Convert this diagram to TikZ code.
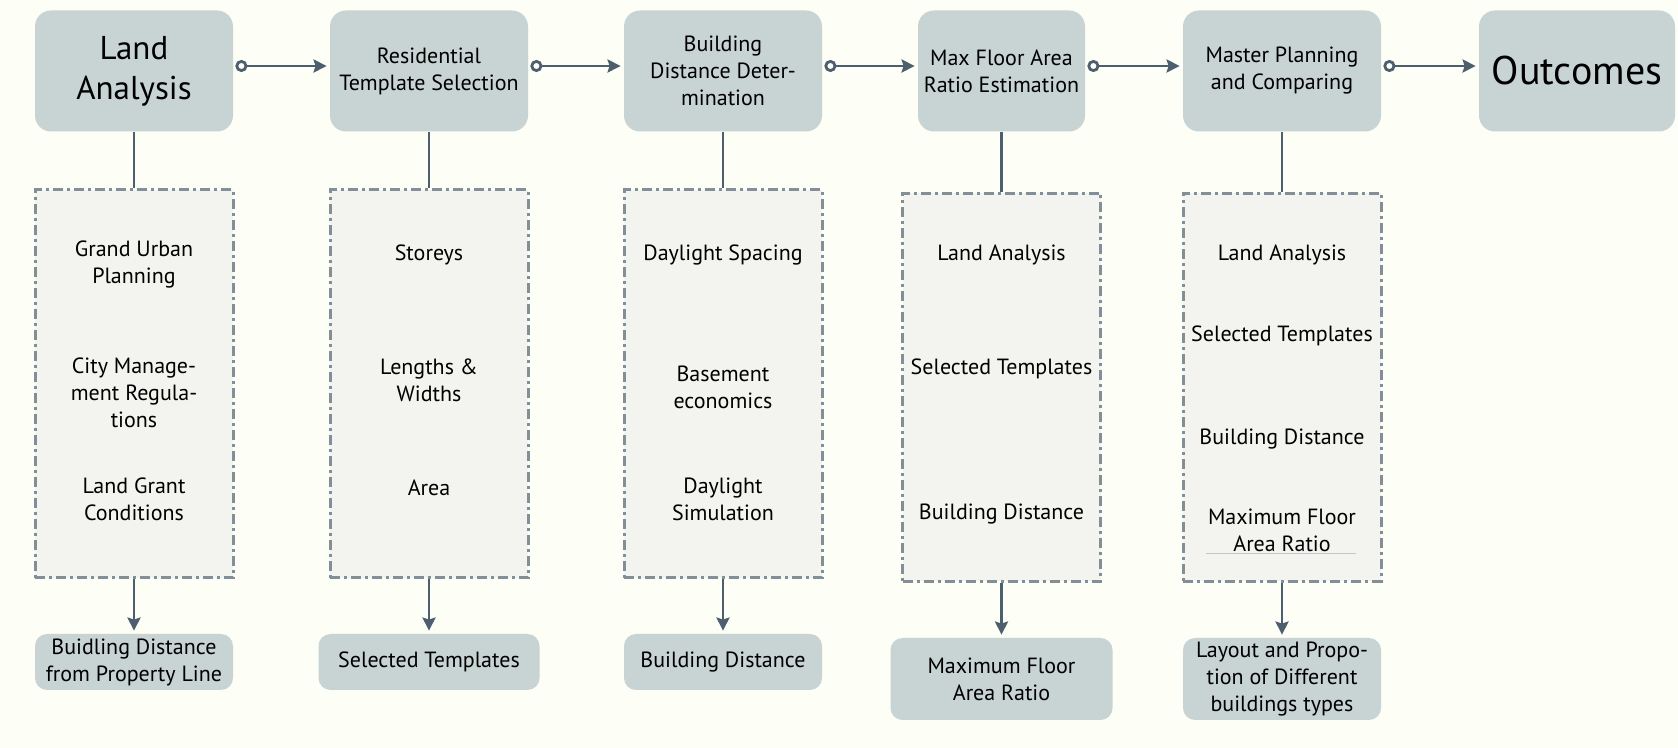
\documentclass[tikz,border=0pt]{standalone}
\usepackage{fontspec}
\setmainfont{PT Sans}
\usepackage{tikz}
\usepackage{xcolor}
\usetikzlibrary{arrows.meta}
\definecolor{paper}{RGB}{253,254,245}
\definecolor{slate}{RGB}{77,94,110}
\definecolor{boxgray}{RGB}{200,211,211}
\definecolor{dashgray}{RGB}{130,142,152}
\definecolor{panel}{RGB}{243,243,240}

\begin{document}
\begin{tikzpicture}[
    x=0.5pt, y=-0.5pt,
    txt/.style={font=\fontsize{11pt}{13.5pt}\selectfont},
    phase/.style={fill=boxgray, rounded corners=8pt, minimum width=99pt, minimum height=60.5pt, inner sep=2pt, align=center, txt},
    group/.style={draw=dashgray, fill=panel, line width=1.5pt, dash pattern=on 5pt off 2pt on 1.5pt off 2pt, minimum width=99pt, minimum height=194pt},
    entry/.style={align=center, inner sep=1pt, txt},
    output/.style={fill=boxgray, rounded corners=6pt, minimum width=99pt, minimum height=28pt, inner sep=1pt, align=center, txt},
    arr/.style={{Circle[fill=white, length=6pt, width=6pt]}-{Stealth[length=6.5pt, width=6.5pt, inset=1pt]}, line width=1.4pt, slate, shorten <=1pt, shorten >=1.5pt},
    conn/.style={line width=1.4pt, slate},
    down/.style={-{Stealth[length=6.5pt, width=6.5pt, inset=1pt]}, line width=1.4pt, slate, shorten >=1.5pt}
]
\useasboundingbox[fill=paper] (0,0) rectangle (1678,748);

% top row
\node[phase, font=\fontsize{16.5pt}{20pt}\selectfont] (p1) at (134,71) {Land\\Analysis};
\node[phase] (p2) at (429,71) {Residential\\Template Selection};
\node[phase] (p3) at (723,71) {Building\\Distance Deter-\\mination};
\node[phase, minimum width=83.5pt] (p4) at (1001.5,71) {Max Floor Area\\Ratio Estimation};
\node[phase] (p5) at (1282,71) {Master Planning\\and Comparing};
\node[phase, minimum width=98pt, font=\fontsize{20pt}{24pt}\selectfont] (p6) at (1577,71) {Outcomes};

% dashed groups
\node[group] (g1) at (134,384) {};
\node[group] (g2) at (429,384) {};
\node[group] (g3) at (723,384) {};
\node[group] (g4) at (1001.5,387.5) {};
\node[group] (g5) at (1282,387.5) {};

\node[entry] (i11) at (134,265) {Grand Urban\\Planning};
\node[entry] (i12) at (134,393) {City Manage-\\ment Regula-\\tions};
\node[entry] (i13) at (134,499) {Land Grant\\Conditions};

\node[entry] (i21) at (429,255) {Storeys};
\node[entry] (i22) at (429,380) {Lengths \&\\Widths};
\node[entry] (i23) at (429,488) {Area};

\node[entry] (i31) at (723,255) {Daylight Spacing};
\node[entry] (i32) at (723,387) {Basement\\economics};
\node[entry] (i33) at (723,499) {Daylight\\Simulation};

\node[entry] (i41) at (1001.5,255) {Land Analysis};
\node[entry] (i42) at (1001.5,369) {Selected Templates};
\node[entry] (i43) at (1001.5,514) {Building Distance};

\node[entry] (i51) at (1282,255) {Land Analysis};
\node[entry] (i52) at (1282,336) {Selected Templates};
\node[entry] (i53) at (1282,439) {Building Distance};
\node[entry] (i54) at (1282,530) {Maximum Floor\\Area Ratio};
\draw[dashgray!50, line width=0.4pt] (1206,553) -- (1356,553);

% results
\node[output] (o1) at (134,662) {Buidling Distance\\from Property Line};
\node[output, minimum width=110.5pt] (o2) at (429,662) {Selected Templates};
\node[output] (o3) at (723,662) {Building Distance};
\node[output, minimum width=111pt, minimum height=41pt] (o4) at (1001.5,679) {Maximum Floor\\Area Ratio};
\node[output, minimum height=41pt] (o5) at (1282,679) {Layout and Propo-\\tion of Different\\buildings types};

% connectors
\draw[arr] ([yshift=2.5pt]p1.east) -- ([yshift=2.5pt]p2.west);
\draw[arr] ([yshift=2.5pt]p2.east) -- ([yshift=2.5pt]p3.west);
\draw[arr] ([yshift=2.5pt]p3.east) -- ([yshift=2.5pt]p4.west);
\draw[arr] ([yshift=2.5pt]p4.east) -- ([yshift=2.5pt]p5.west);
\draw[arr] ([yshift=2.5pt]p5.east) -- ([yshift=2.5pt]p6.west);

\draw[conn] (p1) -- (g1);
\draw[conn] (p2) -- (g2);
\draw[conn] (p3) -- (g3);
\draw[conn] (p4) -- (g4);
\draw[conn] (p5) -- (g5);

\draw[down] (g1) -- (o1);
\draw[down] (g2) -- (o2);
\draw[down] (g3) -- (o3);
\draw[down] (g4) -- (o4);
\draw[down] (g5) -- (o5);
\end{tikzpicture}
\end{document}
